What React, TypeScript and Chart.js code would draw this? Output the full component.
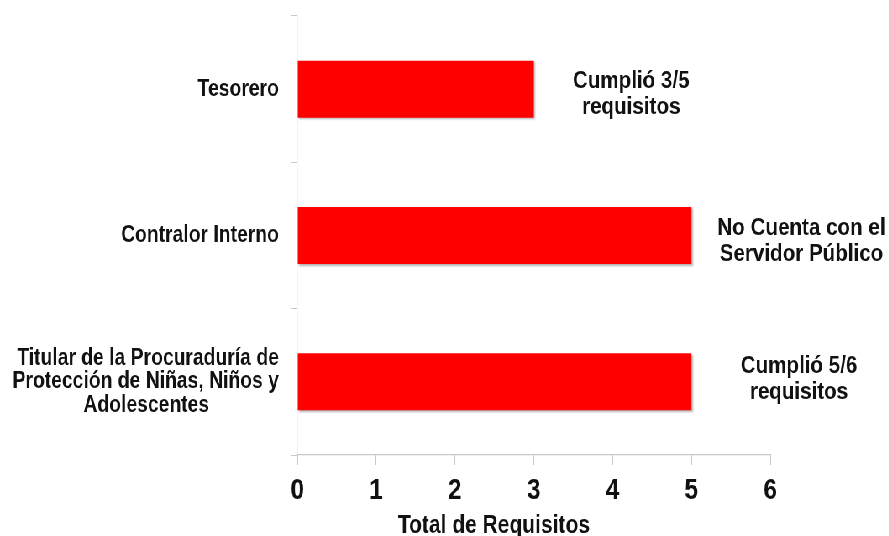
import React, { useEffect, useRef } from "react";
import { Chart, registerables } from "chart.js";

Chart.register(...registerables);

const categories: (string | string[])[] = [
  "Tesorero",
  "Contralor Interno",
  ["Titular de la Procuraduría de", "Protección de Niñas, Niños y", "Adolescentes"],
];
const values: number[] = [3, 5, 5];
const notes: string[][] = [
  ["Cumplió 3/5", "requisitos"],
  ["No Cuenta con el", "Servidor Público"],
  ["Cumplió 5/6", "requisitos"],
];
const xTitle = "Total de Requisitos";

// The reference uses a condensed face; we emulate it by a horizontal squeeze.
const SQUEEZE = 0.84;
const FONT = "'Liberation Sans', Arial, sans-serif";
const Y_FONT_SIZE = 23;

// Centre each line of a multi-line label inside its block (block stays right-aligned).
function centeredLines(label: string | string[]): string | string[] {
  if (!Array.isArray(label)) return label;
  const c = document.createElement("canvas").getContext("2d");
  if (!c) return label;
  c.font = `bold ${Y_FONT_SIZE}px ${FONT}`;
  const sp = c.measureText(" ").width;
  const widths = label.map((l) => c.measureText(l).width);
  const max = Math.max(...widths);
  return label.map((l, i) => l + " ".repeat(Math.max(0, Math.round((max - widths[i]) / 2 / sp))));
}

const notesPlugin = {
  id: "notesPlugin",
  afterDatasetsDraw(chart: any) {
    const ctx = chart.ctx;
    const meta = chart.getDatasetMeta(0);
    const offsets = [116, 131, 128];
    const vOffsets = [5, 6, -3];
    ctx.save();
    ctx.fillStyle = "#111";
    ctx.font = `bold 24.5px ${FONT}`;
    ctx.textAlign = "center";
    ctx.textBaseline = "middle";
    meta.data.forEach((bar: any, i: number) => {
      const lines = notes[i];
      const cx = bar.x + offsets[i];
      const lh = 26;
      const startY = bar.y + vOffsets[i] - ((lines.length - 1) * lh) / 2;
      lines.forEach((t, j) => ctx.fillText(t, cx, startY + j * lh));
    });
    const xs = chart.scales.x;
    ctx.font = `bold 25px ${FONT}`;
    ctx.textBaseline = "alphabetic";
    ctx.fillText(xTitle, xs.left + 234, 533);
    ctx.restore();
  },
};

const shadowPlugin = {
  id: "shadowPlugin",
  beforeDatasetsDraw(chart: any) {
    const ctx = chart.ctx;
    ctx.save();
    ctx.shadowColor = "rgba(0,0,0,0.3)";
    ctx.shadowBlur = 2;
    ctx.shadowOffsetX = 1.5;
    ctx.shadowOffsetY = 1.5;
  },
  afterDatasetsDraw(chart: any) {
    chart.ctx.restore();
  },
};

export default function App() {
  const ref = useRef<HTMLCanvasElement | null>(null);
  useEffect(() => {
    if (!ref.current) return;
    document.body.style.overflow = "hidden";
    const chart = new Chart(ref.current, {
      type: "bar",
      data: {
        labels: categories as any,
        datasets: [
          {
            data: values,
            backgroundColor: "#fe0000",
            borderWidth: 0,
            barPercentage: 0.39,
            categoryPercentage: 1,
          },
        ],
      },
      plugins: [shadowPlugin, notesPlugin],
      options: {
        indexAxis: "y",
        animation: false,
        responsive: true,
        maintainAspectRatio: false,
        layout: { padding: { top: 16, right: 141, left: 0, bottom: 0 } },
        plugins: {
          legend: { display: false },
          tooltip: { enabled: false },
        },
        scales: {
          x: {
            min: 0,
            max: 6,
            ticks: {
              stepSize: 1,
              color: "#111",
              font: { family: FONT, size: 29, weight: "bold" },
              padding: 9,
            },
            grid: {
              drawOnChartArea: false,
              drawTicks: true,
              tickLength: 10,
              color: "#c8c8c8",
            },
            border: { color: "#c8c8c8", width: 1.2 },
            afterFit(scale: any) {
              scale.height = 81;
              scale.paddingLeft = 0;
              scale.paddingRight = 0;
            },
          },
          y: {
            ticks: {
              color: "#111",
              font: { family: FONT, size: Y_FONT_SIZE, weight: "bold", lineHeight: 1.02 },
              padding: 15,
              callback: (_v: any, i: number) => centeredLines(categories[i]),
            },
            grid: {
              offset: true,
              drawOnChartArea: false,
              drawTicks: true,
              tickLength: 7,
              color: "#c8c8c8",
            },
            border: { color: "#c8c8c8", width: 1.2 },
            afterFit(scale: any) {
              scale.width = 354;
              scale.paddingTop = 0;
              scale.paddingBottom = 0;
            },
          },
        },
      },
    });
    return () => chart.destroy();
  }, []);
  return (
    <div
      style={{
        position: "fixed",
        left: 0,
        top: 0,
        width: Math.round(889 / SQUEEZE),
        height: 536,
        background: "#fff",
        transform: `scaleX(${SQUEEZE})`,
        transformOrigin: "0 0",
      }}
    >
      <canvas ref={ref} />
    </div>
  );
}
